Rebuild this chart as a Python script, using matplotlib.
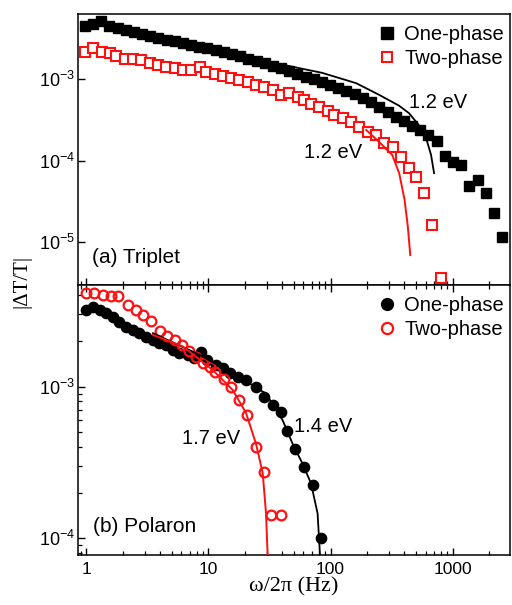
import numpy as np
import matplotlib
matplotlib.use("Agg")
import matplotlib.pyplot as plt
from matplotlib.ticker import LogLocator, NullFormatter, NullLocator

plt.rcParams['font.family'] = ['Liberation Sans', 'DejaVu Sans']
plt.rcParams['mathtext.fontset'] = 'custom'
plt.rcParams['mathtext.rm'] = 'Liberation Sans'
plt.rcParams['mathtext.it'] = 'Liberation Sans:italic'
plt.rcParams['axes.unicode_minus'] = False

# ---- (a) Triplet ----
trip_one_f = [0.97, 1.13, 1.32, 1.54, 1.80, 2.10, 2.45, 2.85, 3.33, 3.89, 4.53, 5.29, 6.18,
              7.21, 8.41, 9.81, 11.5, 13.4, 15.6, 18.2, 21.2, 24.8, 28.9, 33.7, 39.4, 45.9,
              53.6, 62.6, 73.0, 85.2, 99.5, 116, 135, 158, 185, 215, 251, 293, 342, 399,
              466, 543, 634, 740, 863, 1007, 1175, 1371, 1600, 1867, 2180, 2545]
trip_one_v = [4.47e-3, 4.73e-3, 5.15e-3, 4.47e-3, 4.22e-3, 3.99e-3, 3.77e-3, 3.56e-3, 3.37e-3,
              3.18e-3, 3.01e-3, 2.93e-3, 2.76e-3, 2.61e-3, 2.47e-3, 2.40e-3, 2.27e-3, 2.14e-3,
              2.03e-3, 1.92e-3, 1.76e-3, 1.66e-3, 1.57e-3, 1.44e-3, 1.36e-3, 1.25e-3, 1.15e-3,
              1.06e-3, 1.00e-3, 0.92e-3, 0.84e-3, 0.78e-3, 0.71e-3, 0.65e-3, 0.58e-3, 0.52e-3,
              0.45e-3, 0.39e-3, 0.34e-3, 0.305e-3, 0.265e-3, 0.237e-3, 0.206e-3, 0.173e-3,
              0.114e-3, 0.096e-3, 0.088e-3, 0.049e-3, 0.058e-3, 0.040e-3, 0.023e-3, 0.0115e-3]

trip_two_f = [0.97, 1.13, 1.33, 1.55, 1.76, 2.06, 2.41, 2.82, 3.30, 3.86, 4.51, 5.28, 6.17,
              7.22, 8.45, 9.57, 11.2, 13.1, 15.3, 17.9, 21.0, 24.5, 28.7, 33.6, 39.3, 46.0,
              53.8, 61.0, 69.2, 80.9, 94.6, 107, 126, 147, 172, 201, 235, 275, 322, 376,
              440, 499, 584, 683, 800]
trip_two_v = [2.16e-3, 2.38e-3, 2.16e-3, 2.07e-3, 1.91e-3, 1.74e-3, 1.74e-3, 1.71e-3, 1.59e-3,
              1.49e-3, 1.42e-3, 1.35e-3, 1.29e-3, 1.29e-3, 1.42e-3, 1.23e-3, 1.15e-3, 1.09e-3,
              1.02e-3, 0.97e-3, 0.93e-3, 0.84e-3, 0.79e-3, 0.73e-3, 0.64e-3, 0.67e-3, 0.61e-3,
              0.55e-3, 0.50e-3, 0.45e-3, 0.40e-3, 0.36e-3, 0.33e-3, 0.30e-3, 0.26e-3, 0.226e-3,
              0.206e-3, 0.163e-3, 0.148e-3, 0.111e-3, 0.080e-3, 0.063e-3, 0.040e-3, 1.62e-5,
              3.6e-6]

trip_one_fit_f = [29.2, 55.5, 85.5, 162, 250, 365, 440, 531, 606, 666, 705]
trip_one_fit_v = [1.66e-3, 1.36e-3, 1.19e-3, 0.89e-3, 0.64e-3, 0.47e-3, 0.38e-3, 0.27e-3,
                  0.189e-3, 0.117e-3, 0.070e-3]
trip_two_fit_f = [196, 250, 320, 365, 404, 430, 450]
trip_two_fit_v = [0.237e-3, 0.169e-3, 0.117e-3, 0.070e-3, 0.033e-3, 0.0153e-3, 6.9e-6]

# ---- (b) Polaron ----
pol_one_f = [0.99, 1.13, 1.28, 1.45, 1.64, 1.86, 2.11, 2.39, 2.71, 3.07, 3.48, 3.95, 4.48,
             5.08, 5.76, 6.73, 7.64, 8.60, 9.81, 11.6, 13.1, 14.9, 17.4, 20.3, 24.5, 28.7,
             33.6, 39.3, 44.3, 51.4, 61.0, 71.2, 83.5]
pol_one_v = [3.20e-3, 3.37e-3, 3.20e-3, 3.06e-3, 2.89e-3, 2.68e-3, 2.49e-3, 2.36e-3, 2.26e-3,
             2.14e-3, 2.03e-3, 1.94e-3, 1.88e-3, 1.75e-3, 1.67e-3, 1.62e-3, 1.55e-3, 1.70e-3,
             1.50e-3, 1.39e-3, 1.32e-3, 1.23e-3, 1.16e-3, 1.11e-3, 1.00e-3, 0.86e-3, 0.76e-3,
             0.68e-3, 0.51e-3, 0.39e-3, 0.297e-3, 0.225e-3, 1.00e-4]

pol_two_f = [1.00, 1.16, 1.36, 1.58, 1.80, 2.18, 2.53, 2.89, 3.39, 3.97, 4.53, 5.28, 6.01,
             6.86, 7.97, 9.10, 10.2, 11.4, 13.3, 15.4, 17.9, 20.8, 24.5, 28.7, 32.6, 39.3]
pol_two_v = [4.13e-3, 4.13e-3, 4.02e-3, 3.93e-3, 3.93e-3, 3.46e-3, 3.20e-3, 2.97e-3, 2.71e-3,
             2.33e-3, 2.16e-3, 2.02e-3, 1.88e-3, 1.72e-3, 1.57e-3, 1.43e-3, 1.35e-3, 1.25e-3,
             1.13e-3, 1.00e-3, 0.82e-3, 0.65e-3, 0.40e-3, 0.275e-3, 0.143e-3, 0.143e-3]

pol_one_fit_f = [3.51, 8.44, 15.8, 29.6, 40.5, 48.9, 59.0, 69.2, 78.3, 81.9, 83.0]
pol_one_fit_v = [2.25e-3, 1.62e-3, 1.22e-3, 0.90e-3, 0.60e-3, 0.42e-3, 0.31e-3, 0.23e-3,
                 0.146e-3, 7.8e-5, 6.0e-5]
pol_two_fit_f = [3.51, 6.17, 10.8, 15.8, 20.3, 24.5, 27.8, 29.6, 30.5, 31.0]
pol_two_fit_v = [2.19e-3, 1.84e-3, 1.29e-3, 0.95e-3, 0.67e-3, 0.42e-3, 0.27e-3, 0.146e-3,
                 7.8e-5, 6.0e-5]

xticks = [1, 10, 100, 1000]
xticklabels = ['1', '10', '100', '1000']

RED = '#ff1010'

fig = plt.figure(figsize=(5.12, 6.05), dpi=100)
ax1 = fig.add_axes([0.152, 0.529, 0.844, 0.448])
ax2 = fig.add_axes([0.152, 0.0826, 0.844, 0.4464])

ms_sq = 7.4
ms_ci = 7.4

ax1.plot(trip_one_f, trip_one_v, 's', color='black', ms=ms_sq, label='One-phase', zorder=3)
ax1.plot(trip_two_f, trip_two_v, 's', mfc='white', mec=RED, mew=1.5, ms=ms_sq - 0.6,
         label='Two-phase', zorder=4)
ax1.plot(trip_one_fit_f, trip_one_fit_v, '-', color='black', lw=1.3, zorder=5)
ax1.plot(trip_two_fit_f, trip_two_fit_v, '-', color=RED, lw=1.4, zorder=5)

ax2.plot(pol_one_f, pol_one_v, 'o', color='black', ms=ms_ci, label='One-phase', zorder=3)
ax2.plot(pol_two_f, pol_two_v, 'o', mfc='none', mec=RED, mew=1.6, ms=ms_ci - 0.4,
         label='Two-phase', zorder=4)
ax2.plot(pol_one_fit_f, pol_one_fit_v, '-', color='black', lw=1.3, zorder=5)
ax2.plot(pol_two_fit_f, pol_two_fit_v, '-', color=RED, lw=1.4, zorder=5)

ax1.set_ylim(2.97e-6, 6.3e-3)
ax2.set_ylim(7.76e-5, 4.68e-3)

for ax in (ax1, ax2):
    ax.set_xscale('log')
    ax.set_yscale('log')
    ax.set_xlim(0.85, 2950)
    for s in ax.spines.values():
        s.set_linewidth(1.1)
    ax.set_xticks(xticks)
    ax.xaxis.set_minor_locator(LogLocator(base=10, subs=np.arange(2, 10), numticks=20))
    ax.xaxis.set_minor_formatter(NullFormatter())
    ax.tick_params(which='major', direction='in', length=5, width=1.0, labelsize=12.5, pad=5)
    ax.tick_params(which='minor', direction='in', length=3, width=0.9)
    ax.tick_params(axis='y', which='both', right=False, pad=2, labelsize=13)
    ax.legend(loc='upper right', bbox_to_anchor=(1.012, 1.0), frameon=False, fontsize=14.5,
              handlelength=0.8, handletextpad=0.45, borderaxespad=0.15, labelspacing=0.25,
              markerscale=1.15)

ax1.yaxis.set_major_locator(LogLocator(base=10, numticks=10))
ax1.yaxis.set_minor_locator(NullLocator())
ax1.tick_params(axis='x', which='both', top=False, labelbottom=False)
ax2.yaxis.set_major_locator(LogLocator(base=10, numticks=10))
ax2.yaxis.set_minor_locator(LogLocator(base=10, subs=np.arange(2, 10), numticks=20))
ax2.yaxis.set_minor_formatter(NullFormatter())
ax2.tick_params(axis='x', which='both', top=True)
ax2.set_xticklabels(xticklabels)

ax1.text(0.833, 0.672, '1.2 eV', transform=ax1.transAxes, ha='center', va='center', fontsize=14.5)
ax1.text(0.590, 0.487, '1.2 eV', transform=ax1.transAxes, ha='center', va='center', fontsize=14.5)
ax1.text(0.032, 0.10, '(a) Triplet', transform=ax1.transAxes, ha='left', va='center', fontsize=15)

ax2.text(0.309, 0.432, '1.7 eV', transform=ax2.transAxes, ha='center', va='center', fontsize=14.5)
ax2.text(0.568, 0.475, '1.4 eV', transform=ax2.transAxes, ha='center', va='center', fontsize=14.5)
ax2.text(0.034, 0.104, '(b) Polaron', transform=ax2.transAxes, ha='left', va='center', fontsize=15)

ax2.set_xlabel('ω/2π (Hz)', fontsize=16, family=['Liberation Serif', 'DejaVu Serif'], labelpad=0)
fig.text(0.043, 0.534, '|ΔT/T|', rotation=90, ha='center', va='center', fontsize=15,
         family=['Liberation Serif', 'DejaVu Serif'])

fig.savefig('out.png', dpi=100)
